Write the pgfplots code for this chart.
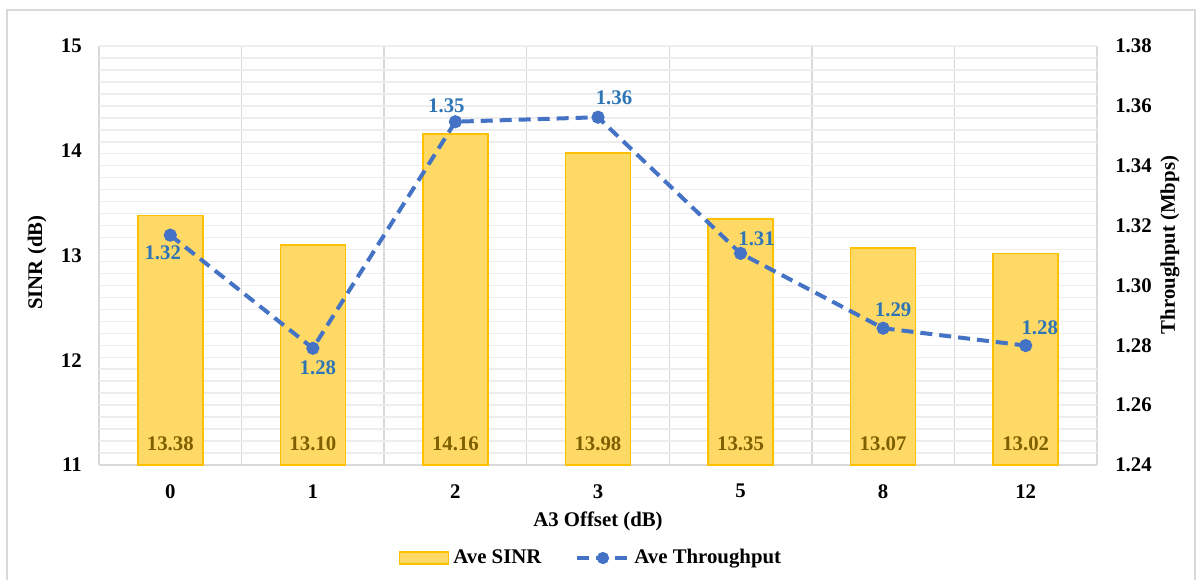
\documentclass[border=0pt]{standalone}
\usepackage{pgfplots}
\pgfplotsset{compat=1.18}
\usepackage{fontspec}
\setmainfont{Liberation Serif}
\definecolor{barfill}{HTML}{FFD966}
\definecolor{barline}{HTML}{FFC000}
\definecolor{linecol}{HTML}{4472C4}
\definecolor{labblue}{HTML}{2E75B6}
\definecolor{barlab}{HTML}{7F6000}
\definecolor{gridh}{HTML}{EDEDED}
\definecolor{gridv}{HTML}{D9D9D9}
\definecolor{framecol}{HTML}{D9D9D9}
\begin{document}
\fontsize{10.4pt}{12.5pt}\selectfont
\begin{tikzpicture}
\useasboundingbox (0,0) rectangle (600pt,289.5pt);
\draw[framecol, line width=0.75pt] (3.5pt,-5pt) -- (3.5pt,284.5pt) -- (597.5pt,284.5pt) -- (597.5pt,-5pt);
% grid axis
\begin{axis}[at={(49.5pt,57pt)}, anchor=south west, scale only axis,
  width=499pt, height=209.5pt,
  xmin=0, xmax=7, ymin=0, ymax=35,
  xtick={0,...,7}, ytick={0,...,35},
  xticklabels={}, yticklabels={},
  major tick length=0pt,
  axis line style={draw=none},
  xmajorgrids, ymajorgrids,
  x grid style={gridv, line width=0.75pt},
  y grid style={gridh, line width=0.75pt},
  clip=false]
\draw[gridv, line width=0.9pt] (axis cs:0,0) -- (axis cs:7,0);
\end{axis}
% bar axis
\begin{axis}[at={(49.5pt,57pt)}, anchor=south west, scale only axis,
  width=499pt, height=209.5pt,
  xmin=-0.5, xmax=6.5, ymin=11, ymax=15,
  xtick={0,...,6}, xticklabels={0,1,2,3,5,8,12},
  ytick={11,...,15},
  major tick length=0pt,
  axis line style={draw=none},
  axis y line*=left, axis x line*=bottom,
  ticklabel style={font=\bfseries},
  /pgf/number format/assume math mode=true,
  yticklabel style={xshift=-5pt},
  xticklabel style={yshift=-6pt},
  xlabel={\bfseries A3 Offset (dB)},
  ylabel={\bfseries SINR (dB)},
  xlabel style={at={(axis description cs:0.5,-0.1353)}, anchor=center},
  ylabel style={at={(axis description cs:-0.062,0.483)}, anchor=center},
  ]
\addplot[ybar, bar width=32.5pt, fill=barfill, draw=barline, line width=0.75pt]
  coordinates {(0,13.38) (1,13.10) (2,14.16) (3,13.98) (4,13.35) (5,13.07) (6,13.02)};
\addplot[draw=none, mark=none, nodes near coords, point meta=explicit symbolic,
  nodes near coords style={anchor=center, yshift=10.5pt, font=\bfseries, text=barlab}]
  table[meta=lab] {
x y lab
0 11 13.38
1 11 13.10
2 11 14.16
3 11 13.98
4 11 13.35
5 11 13.07
6 11 13.02
};
\end{axis}
% line axis
\begin{axis}[at={(49.5pt,57pt)}, anchor=south west, scale only axis,
  width=499pt, height=209.5pt,
  xmin=-0.5, xmax=6.5, ymin=1.24, ymax=1.38,
  axis y line*=right, axis x line=none,
  ytick={1.24,1.26,1.28,1.30,1.32,1.34,1.36,1.38},
  yticklabel style={/pgf/number format/.cd, fixed, fixed zerofill, precision=2, /tikz/.cd, xshift=5.5pt},
  major tick length=0pt,
  axis line style={draw=none},
  ticklabel style={font=\bfseries},
  /pgf/number format/assume math mode=true,
  ylabel={\bfseries Throughput (Mbps)},
  ylabel style={at={(axis description cs:1.0731,0.525)}, anchor=center},
  legend columns=2,
  legend style={at={(0.494,-0.222)}, anchor=center, draw=none, fill=none,
    font=\bfseries, /tikz/every even column/.append style={column sep=15pt}},
  legend image code/.code={\draw[#1, mark repeat=2, mark phase=2, mark size=2pt] plot coordinates {(0pt,0pt) (12.75pt,0pt) (25.5pt,0pt)};},
  clip=false]
\addlegendimage{legend image code/.code={\draw[fill=barfill, draw=barline, line width=0.75pt] (0pt,-3pt) rectangle (24.5pt,3pt);}}
\addlegendentry{Ave SINR}
\addplot[color=linecol, line width=2pt, dash pattern=on 6pt off 3.5pt,
  mark=*, mark size=2.25pt, mark options={solid, fill=linecol}]
  coordinates {(0,1.3168) (1,1.2790) (2,1.3547) (3,1.3562) (4,1.3107) (5,1.2857) (6,1.2799)};
\addlegendentry{Ave Throughput}
\addplot[draw=none, mark=none, forget plot, nodes near coords, point meta=explicit symbolic,
  visualization depends on={value \thisrow{dx} \as \dx},
  visualization depends on={value \thisrow{dy} \as \dy},
  nodes near coords style={anchor=center, xshift=\dx pt, yshift=\dy pt, font=\bfseries, text=labblue}]
  table[meta=lab] {
x y lab dx dy
0 1.3168 1.32 -3.75 -9
1 1.2790 1.28 2.5 -9.5
2 1.3547 1.35 -4.5 8
3 1.3562 1.36 8 9.5
4 1.3107 1.31 8 7.5
5 1.2857 1.29 5 9
6 1.2799 1.28 7 9
};
\end{axis}
\end{tikzpicture}
\end{document}
